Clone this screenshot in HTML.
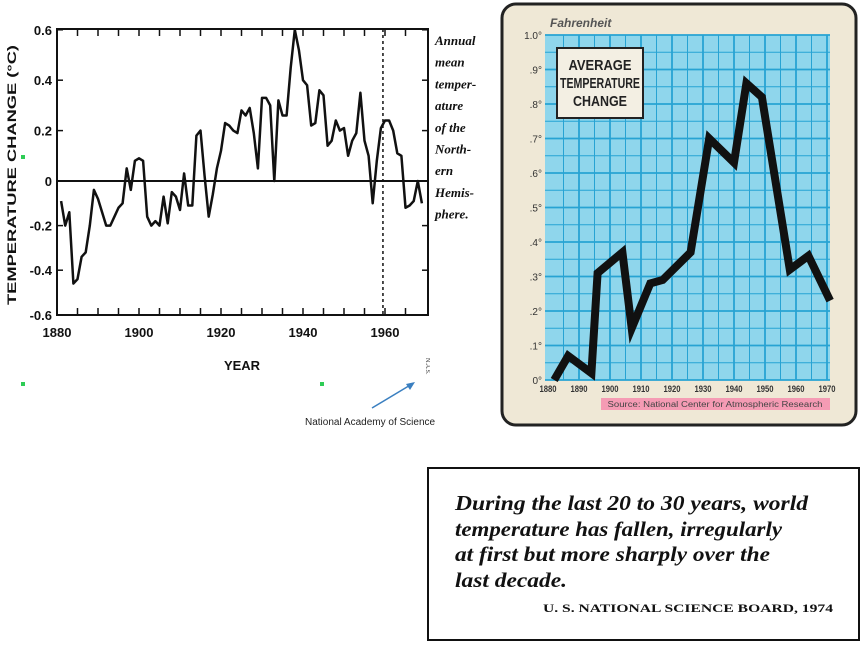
<!DOCTYPE html>
<html><head><meta charset="utf-8"><style>
html,body{margin:0;padding:0;background:#fff;}
svg{display:block;}
</style></head><body>
<svg id="root" width="863" height="646" viewBox="0 0 863 646" xmlns="http://www.w3.org/2000/svg">
<g id="left"></g>
<g id="right"></g>
<g>
<rect x="428" y="468" width="431" height="172" fill="#fff" stroke="#111" stroke-width="2"/>
<g font-family="Liberation Serif, serif" font-style="italic" font-weight="bold" font-size="21" fill="#111">
<text x="455" y="510" textLength="353" lengthAdjust="spacingAndGlyphs">During the last 20 to 30 years, world</text>
<text x="455" y="536" textLength="327" lengthAdjust="spacingAndGlyphs">temperature has fallen, irregularly</text>
<text x="455" y="561" textLength="315" lengthAdjust="spacingAndGlyphs">at first but more sharply over the</text>
<text x="455" y="587" textLength="112" lengthAdjust="spacingAndGlyphs">last decade.</text>
</g>
<text x="543" y="612" textLength="290" lengthAdjust="spacingAndGlyphs" font-family="Liberation Serif, serif" font-weight="bold" font-size="12" fill="#111">U. S. NATIONAL SCIENCE BOARD, 1974</text>
</g>
</svg>
<script>
const NS='http://www.w3.org/2000/svg';
function mk(parent,tag,attrs,txt){const e=document.createElementNS(NS,tag);for(const k in attrs)e.setAttribute(k,attrs[k]);if(txt!==undefined)e.textContent=txt;parent.appendChild(e);return e;}

// ---------- Left chart data ----------
const leftYears=[1881,1882,1883,1884,1885,1886,1887,1888,1889,1890,1891,1892,1893,1894,1895,1896,1897,1898,1899,1900,1901,1902,1903,1904,1905,1906,1907,1908,1909,1910,1911,1912,1913,1914,1915,1916,1917,1918,1919,1920,1921,1922,1923,1924,1925,1926,1927,1928,1929,1930,1931,1932,1933,1934,1935,1936,1937,1938,1939,1940,1941,1942,1943,1944,1945,1946,1947,1948,1949,1950,1951,1952,1953,1954,1955,1956,1957,1958,1959,1960,1961,1962,1963,1964,1965,1966,1967,1968,1969];
const leftValues=[-0.09,-0.20,-0.14,-0.46,-0.44,-0.34,-0.32,-0.20,-0.04,-0.08,-0.14,-0.20,-0.20,-0.16,-0.12,-0.10,0.05,-0.04,0.08,0.09,0.08,-0.16,-0.20,-0.18,-0.20,-0.07,-0.19,-0.05,-0.07,-0.13,0.03,-0.11,-0.11,0.18,0.20,0.02,-0.16,-0.06,0.05,0.12,0.23,0.22,0.20,0.19,0.28,0.26,0.29,0.19,0.05,0.33,0.33,0.30,0.00,0.32,0.26,0.26,0.45,0.60,0.52,0.40,0.38,0.22,0.23,0.36,0.34,0.14,0.16,0.24,0.20,0.21,0.10,0.16,0.19,0.35,0.16,0.10,-0.10,0.08,0.21,0.24,0.24,0.20,0.11,0.10,-0.12,-0.11,-0.09,0.00,-0.10];
const leftYTicks=[0.6,0.4,0.2,0,-0.2,-0.4,-0.6];
const leftYLabels=['0.6','0.4','0.2','0','-0.2','-0.4','-0.6'];
const leftXTicks=[1880,1900,1920,1940,1960];

const L=document.getElementById('left');
const lx=y=>57+(y-1880)*4.1;
const ly=v=>v>=0?181-v*252:181-v*223;
const pf=mk(L,'rect',{x:57,y:29,width:371,height:286,fill:'none',stroke:'#111','stroke-width':2});


for(let y=1885;y<1970;y+=5){
  const t1=mk(L,'line',{x1:lx(y),x2:lx(y),y1:29,y2:36,stroke:'#111','stroke-width':1.5});
  
  
  const t2=mk(L,'line',{x1:lx(y),x2:lx(y),y1:308,y2:315,stroke:'#111','stroke-width':1.5});
  
  
}
leftYTicks.forEach((v,i)=>{
  const a=mk(L,'line',{x1:57,x2:63,y1:ly(v),y2:ly(v),stroke:'#111','stroke-width':1.5});
  
  
  const b=mk(L,'line',{x1:422,x2:428,y1:ly(v),y2:ly(v),stroke:'#111','stroke-width':1.5});
  
  
  const t=mk(L,'text',{x:52,y:ly(v)+5,'text-anchor':'end','font-family':'Liberation Sans, sans-serif','font-weight':'bold','font-size':13,fill:'#111'},leftYLabels[i]);
  
  
});
leftXTicks.forEach(y=>{
  const t=mk(L,'text',{x:lx(y),y:337,'text-anchor':'middle','font-family':'Liberation Sans, sans-serif','font-weight':'bold','font-size':13,fill:'#111'},String(y));
  
  
});
const zl=mk(L,'line',{x1:57,x2:428,y1:ly(0),y2:ly(0),stroke:'#111','stroke-width':2});


const dl=mk(L,'line',{x1:lx(1959.5),x2:lx(1959.5),y1:29,y2:315,stroke:'#111','stroke-width':1.5,'stroke-dasharray':'3,3'});


const lp=mk(L,'polyline',{points:leftYears.map((y,i)=>lx(y)+','+ly(leftValues[i])).join(' '),fill:'none',stroke:'#111','stroke-width':2.5,'stroke-linejoin':'round'});


const yt=mk(L,'text',{x:0,y:0,transform:'translate(16,175) rotate(-90)','text-anchor':'middle','font-family':'Liberation Sans, sans-serif','font-weight':'bold','font-size':12,fill:'#111',textLength:260,lengthAdjust:'spacingAndGlyphs'},'TEMPERATURE  CHANGE (°C)');


const xt=mk(L,'text',{x:242,y:370,'text-anchor':'middle','font-family':'Liberation Sans, sans-serif','font-weight':'bold','font-size':13,fill:'#111'},'YEAR');


const noteLines=['Annual','mean','temper-','ature','of the','North-','ern','Hemis-','phere.'];
noteLines.forEach((s,i)=>{
  const t=mk(L,'text',{x:435,y:45+i*21.7,'font-family':'Liberation Serif, serif','font-style':'italic','font-weight':'bold','font-size':13,fill:'#111'},s);
  
  
});
[[23,157],[23,384],[322,384]].forEach(p=>{
  const r=mk(L,'rect',{x:p[0]-2,y:p[1]-2,width:4,height:4,fill:'#2ecc55'});
  
  
});
const ar=mk(L,'line',{x1:372,y1:408,x2:412,y2:384,stroke:'#3a7fc0','stroke-width':1.5});


const ah=mk(L,'polygon',{points:'415,382 406,384 410,390',fill:'#3a7fc0'});


const nas=mk(L,'text',{x:305,y:425,'font-family':'Liberation Sans, sans-serif','font-size':10,fill:'#222'},'National Academy of Science');


const sm=mk(L,'text',{x:0,y:0,transform:'translate(426,358) rotate(90)','font-family':'Liberation Serif, serif','font-size':6,fill:'#333'},'N.A.S.');



// ---------- Right chart data ----------
const rightYears=[1882,1886.5,1894,1896,1904,1907,1913,1917,1926,1932,1940,1944,1949,1958,1964,1971];
const rightValues=[0.00,0.07,0.02,0.31,0.37,0.15,0.28,0.29,0.37,0.70,0.63,0.86,0.82,0.32,0.36,0.23];
const rightYTicks=[0,0.1,0.2,0.3,0.4,0.5,0.6,0.7,0.8,0.9,1.0];
const rightYLabels=['0°','.1°','.2°','.3°','.4°','.5°','.6°','.7°','.8°','.9°','1.0°'];
const rightXTicks=[1880,1890,1900,1910,1920,1930,1940,1950,1960,1970];

const R=document.getElementById('right');
const rx=y=>548+(y-1880)*3.1;
const ry=v=>380-v*345;
const bg=mk(R,'rect',{x:502,y:4,width:354,height:421,rx:14,fill:'#efe8d6',stroke:'#222','stroke-width':3});


const pa=mk(R,'rect',{x:545,y:ry(1.0),width:285,height:ry(0)-ry(1.0),fill:'#8fd6ec'});


for(let v=0;v<=20;v++){
  const yy=ry(v*0.05);
  const g=mk(R,'line',{x1:545,x2:830,y1:yy,y2:yy,stroke:'#27a3d3','stroke-width':v%2?1:1.8});
  
  
}
for(let y=1885;y<=1970;y+=5){
  const g=mk(R,'line',{x1:rx(y),x2:rx(y),y1:ry(1.0),y2:ry(0),stroke:'#27a3d3','stroke-width':y%10?1:1.8});
  
  
}
rightYTicks.forEach((v,i)=>{
  const t=mk(R,'text',{x:542,y:ry(v)+4,'text-anchor':'end','font-family':'Liberation Sans, sans-serif','font-size':10,fill:'#333'},rightYLabels[i]);
  
  
});
rightXTicks.forEach(y=>{
  const t=mk(R,'text',{x:rx(y),y:392,'text-anchor':'middle','font-family':'Liberation Sans, sans-serif','font-weight':'bold','font-size':9,fill:'#333',transform:'translate('+rx(y)+',0) scale(0.85,1) translate('+(-rx(y))+',0)'},String(y));
  
  
});
const fh=mk(R,'text',{x:550,y:27,'font-family':'Liberation Sans, sans-serif','font-style':'italic','font-weight':'bold','font-size':12,fill:'#555'},'Fahrenheit');


const rp=mk(R,'polyline',{points:rightYears.map((y,i)=>rx(y)+','+ry(rightValues[i])).join(' '),fill:'none',stroke:'#111','stroke-width':8,'stroke-linejoin':'miter'});


const tb=mk(R,'rect',{x:557,y:48,width:86,height:70,fill:'#f3efe3',stroke:'#222','stroke-width':2});


['AVERAGE','TEMPERATURE','CHANGE'].forEach((s,i)=>{
  const t=mk(R,'text',{x:600,y:70+i*18,'text-anchor':'middle','font-family':'Liberation Sans, sans-serif','font-weight':'bold','font-size':15,fill:'#222',textLength:s.length>8?80:(s.length*9),lengthAdjust:'spacingAndGlyphs'},s);
  
  
});
const sb=mk(R,'rect',{x:601,y:398,width:229,height:12,fill:'#f59bb4'});


const st=mk(R,'text',{x:715,y:407,'text-anchor':'middle','font-family':'Liberation Sans, sans-serif','font-size':8,fill:'#444',textLength:215,lengthAdjust:'spacingAndGlyphs'},'Source: National Center for Atmospheric Research');


</script>
</body></html>
